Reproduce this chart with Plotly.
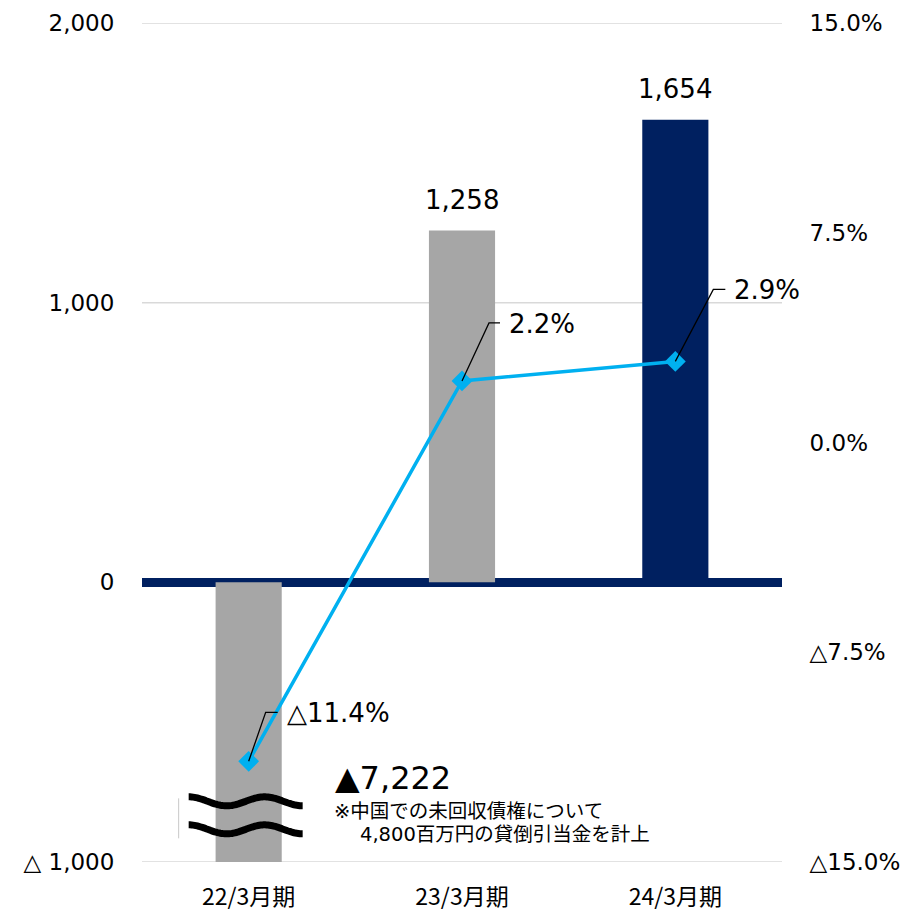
import numpy as np
import plotly.graph_objects as go

# ---- data ----
periods = ["22/3月期", "23/3月期", "24/3月期"]
profit = [-7222, 1258, 1654]          # 百万円
ratio = [-11.4, 2.2, 2.9]              # %
bar_colors = ["#A6A6A6", "#A6A6A6", "#002060"]

left_ticks = [-1000, 0, 1000, 2000]
left_ticktext = ["△ 1,000", "0", "1,000", "2,000"]
right_ticks = [-15, -7.5, 0, 7.5, 15]
right_ticktext = ["△15.0%", "△7.5%", "0.0%", "7.5%", "15.0%"]

note_lines = ["※中国での未回収債権について", "4,800百万円の貸倒引当金を計上"]

FONT = "DejaVu Sans, Verdana, Noto Sans CJK JP, sans-serif"
CJK_FONT = "Noto Sans CJK JP, sans-serif"
NAVY = "#002060"
CYAN = "#00B0F0"
GRID = "#D9D9D9"


def fmt_amount(v):
    return f"{v:,}" if v >= 0 else f"▲{abs(v):,}"


def fmt_pct(v):
    return f"{v:.1f}%" if v >= 0 else f"△{abs(v):.1f}%"


fig = go.Figure()

fig.add_trace(go.Bar(
    x=periods, y=profit, marker=dict(color=bar_colors, line=dict(width=0)),
    yaxis="y", showlegend=False, hoverinfo="skip",
))

fig.add_trace(go.Scatter(
    x=periods, y=ratio, yaxis="y2", mode="lines+markers",
    line=dict(color=CYAN, width=3.5),
    marker=dict(symbol="diamond", size=16, color=CYAN),
    showlegend=False, hoverinfo="skip", cliponaxis=False,
))

annotations = []
shapes = []

# horizontal gridlines (drawn as shapes so the edge lines show too)
for t in left_ticks:
    if t != 0:
        shapes.append(dict(
            type="line", xref="paper", yref="y", x0=0, x1=1, y0=t, y1=t,
            line=dict(color=GRID, width=1.5), layer="below",
        ))

# value labels above the positive bars
for p, v in zip(periods, profit):
    if v > 0:
        annotations.append(dict(
            x=p, y=v, xref="x", yref="y", text=fmt_amount(v), showarrow=False,
            yanchor="middle", yshift=31, font=dict(size=26, color="#000000"),
        ))

# percentage labels with elbow leader lines (pixel offsets from each marker)
leader_offsets = [(17, 49, 29), (27, 58, 38), (38, 72, 50)]
for p, v, (cx, cy, ex) in zip(periods, ratio, leader_offsets):
    shapes.append(dict(
        type="path", xref="x", yref="y2",
        xsizemode="pixel", ysizemode="pixel", xanchor=p, yanchor=v,
        path=f"M0,0 L{cx},{cy} L{ex},{cy}",
        line=dict(color="#000000", width=1.3), layer="above",
    ))
    annotations.append(dict(
        x=p, y=v, xref="x", yref="y2", text=fmt_pct(v), showarrow=False,
        xanchor="left", yanchor="middle", xshift=ex + 7, yshift=cy - 1,
        font=dict(size=26, color="#000000"),
    ))

# wavy break marks across the truncated bar
wave_x = np.linspace(-60, 54, 80)
for dy in (-219, -247):
    wave_y = dy + 4.5 * np.cos(2 * np.pi * (wave_x + 60) / 76)
    path = "M" + " L".join(f"{a:.1f},{b:.1f}" for a, b in zip(wave_x, wave_y))
    shapes.append(dict(
        type="path", xref="x", yref="y", xsizemode="pixel", ysizemode="pixel",
        xanchor=periods[0], yanchor=0, path=path,
        line=dict(color="#000000", width=7), layer="above",
    ))
shapes.append(dict(
    type="line", xref="x", yref="y", xsizemode="pixel", ysizemode="pixel",
    xanchor=periods[0], yanchor=0, x0=-70, x1=-70, y0=-216, y1=-256,
    line=dict(color="#C8C8C8", width=1), layer="above",
))

# truncated bar value and note
annotations.append(dict(
    x=0.298, y=0.100, xref="paper", yref="paper", text=fmt_amount(profit[0]),
    showarrow=False, xanchor="left", yanchor="middle",
    font=dict(size=32, color="#000000"),
))
annotations.append(dict(
    x=0.297, y=0.0605, xref="paper", yref="paper", text=note_lines[0],
    showarrow=False, xanchor="left", yanchor="middle",
    font=dict(size=19.5, color="#000000"),
))
annotations.append(dict(
    x=0.338, y=0.033, xref="paper", yref="paper", text=note_lines[1],
    showarrow=False, xanchor="left", yanchor="middle",
    font=dict(size=19.5, color="#000000"),
))

fig.update_layout(
    width=909, height=913,
    margin=dict(l=142, r=127, t=23, b=51),
    paper_bgcolor="#FFFFFF", plot_bgcolor="#FFFFFF",
    font=dict(family=FONT, color="#000000"),
    bargap=0.69,
    xaxis=dict(
        type="category", range=[-0.5, len(periods) - 0.5],
        showgrid=False, zeroline=False, showline=False, automargin=False,
        ticks="outside", ticklen=14, tickcolor="rgba(0,0,0,0)",
        tickfont=dict(size=23, family=CJK_FONT),
    ),
    yaxis=dict(
        range=[-1000, 2000], tickvals=left_ticks, ticktext=left_ticktext,
        showgrid=False, automargin=False,
        zeroline=True, zerolinecolor=NAVY, zerolinewidth=9,
        showline=False, ticks="outside", ticklen=22,
        tickcolor="rgba(0,0,0,0)", tickfont=dict(size=23, family=FONT),
    ),
    yaxis2=dict(
        range=[-15, 15], tickvals=right_ticks, ticktext=right_ticktext,
        overlaying="y", side="right", showgrid=False, zeroline=False,
        automargin=False,
        showline=False, ticks="outside", ticklen=22,
        tickcolor="rgba(0,0,0,0)", tickfont=dict(size=23, family=FONT),
    ),
    annotations=annotations,
    shapes=shapes,
)

fig.write_html("out.html")
